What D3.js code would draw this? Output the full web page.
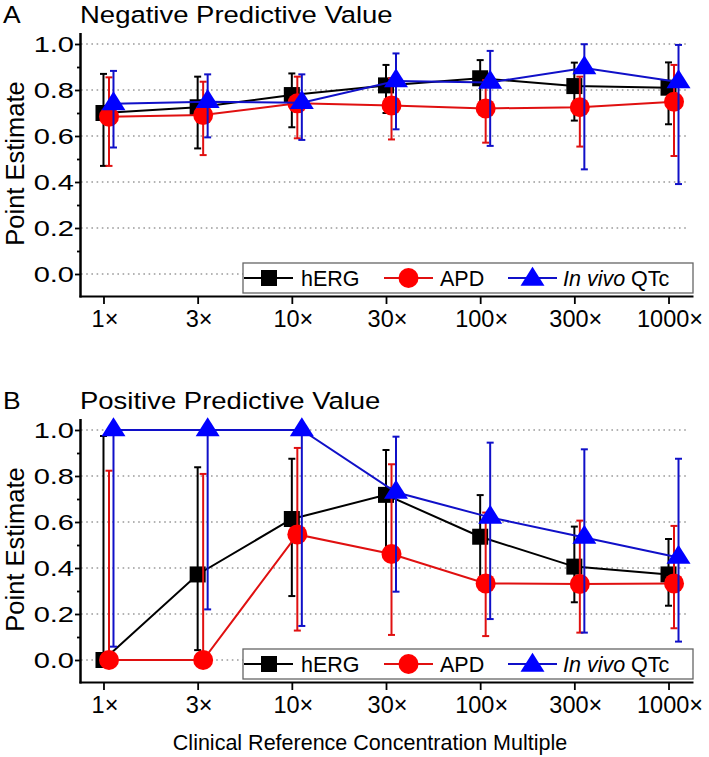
<!DOCTYPE html>
<html>
<head>
<meta charset="utf-8">
<script src="https://cdn.jsdelivr.net/npm/d3@7"></script>
<style>
  html, body { margin: 0; padding: 0; background: #fff; }
  svg { display: block; }
  text { font-family: "Liberation Sans", Arial, sans-serif; fill: #000; }
</style>
</head>
<body>
<div id="chart"></div>
<script>
// ---------------- DATA ----------------
const categories = ["1×", "3×", "10×", "30×", "100×", "300×", "1000×"];
const yTickValues = [0.0, 0.2, 0.4, 0.6, 0.8, 1.0];
const yMinorValues = [0.1, 0.3, 0.5, 0.7, 0.9];
const seriesNames = ["hERG", "APD", "In vivo QTc"];

// Panel A: Negative Predictive Value
const npvHERG   = [0.700, 0.725, 0.778, 0.820, 0.851, 0.817, 0.810];
const npvHERGLo = [0.470, 0.546, 0.638, 0.700, 0.725, 0.667, 0.651];
const npvHERGHi = [0.870, 0.858, 0.872, 0.909, 0.930, 0.919, 0.920];
const npvAPD    = [0.684, 0.691, 0.742, 0.733, 0.720, 0.725, 0.749];
const npvAPDLo  = [0.470, 0.517, 0.590, 0.585, 0.571, 0.554, 0.513];
const npvAPDHi  = [0.855, 0.836, 0.858, 0.851, 0.843, 0.858, 0.909];
const npvQTc    = [0.740, 0.749, 0.745, 0.839, 0.833, 0.896, 0.835];
const npvQTcLo  = [0.550, 0.594, 0.583, 0.629, 0.557, 0.455, 0.391];
const npvQTcHi  = [0.883, 0.868, 0.868, 0.959, 0.970, 0.999, 0.996];

// Panel B: Positive Predictive Value
const ppvHERG   = [0.000, 0.372, 0.613, 0.718, 0.536, 0.406, 0.372];
const ppvHERGLo = [0.000, 0.043, 0.278, 0.470, 0.345, 0.251, 0.236];
const ppvHERGHi = [0.974, 0.838, 0.875, 0.913, 0.717, 0.580, 0.526];
const ppvAPD    = [0.000, 0.000, 0.546, 0.461, 0.333, 0.330, 0.333];
const ppvAPDLo  = [0.000, 0.000, 0.128, 0.109, 0.104, 0.119, 0.138];
const ppvAPDHi  = [0.823, 0.809, 0.922, 0.851, 0.641, 0.606, 0.583];
const ppvQTc    = [1.000, 1.000, 1.000, 0.729, 0.620, 0.533, 0.446];
const ppvQTcLo  = [0.058, 0.220, 0.148, 0.297, 0.178, 0.119, 0.080];
const ppvQTcHi  = [1.000, 1.000, 1.000, 0.971, 0.945, 0.916, 0.875];

// ---------------- STYLE ----------------
const W = 709, H = 757;
const styles = [
  { line: "#000000", fill: "#000000", bar: "#000000", shape: "square", dx: 0 },
  { line: "#e01010", fill: "#ff0000", bar: "#e01010", shape: "circle", dx: 5.5 },
  { line: "#1010c8", fill: "#0000ff", bar: "#1010c8", shape: "triangle", dx: 10 }
];

const panels = [
  { letter: "A", title: "Negative Predictive Value", zeroY: 274,
    series: [[npvHERG, npvHERGLo, npvHERGHi], [npvAPD, npvAPDLo, npvAPDHi], [npvQTc, npvQTcLo, npvQTcHi]] },
  { letter: "B", title: "Positive Predictive Value", zeroY: 660,
    series: [[ppvHERG, ppvHERGLo, ppvHERGHi], [ppvAPD, ppvAPDLo, ppvAPDHi], [ppvQTc, ppvQTcLo, ppvQTcHi]] }
];

const svg = d3.select("#chart").append("svg").attr("width", W).attr("height", H);

const x = d3.scalePoint().domain(categories).range([79, 693]).padding(0.26);

function stext(g, px, py, str, size, anchor, sx) {
  return g.append("text")
    .attr("transform", `translate(${px},${py}) scale(${sx || 1},1)`)
    .attr("text-anchor", anchor || "start")
    .style("font-size", size + "px")
    .text(str);
}

function triPath(w, h) {
  const p = d3.path();
  p.moveTo(0, -2 * h / 3);
  p.lineTo(w / 2, h / 3);
  p.lineTo(-w / 2, h / 3);
  p.closePath();
  return p.toString();
}

function drawMarker(g, shape, cx, cy, fill) {
  if (shape === "square") {
    g.append("rect").attr("x", cx - 8).attr("y", cy - 8).attr("width", 16).attr("height", 16).attr("fill", fill);
  } else if (shape === "circle") {
    g.append("circle").attr("cx", cx).attr("cy", cy).attr("r", 10).attr("fill", fill);
  } else {
    g.append("path").attr("d", triPath(24, 19)).attr("transform", `translate(${cx},${cy})`).attr("fill", fill);
  }
}

panels.forEach(panel => {
  const z = panel.zeroY;
  const y = d3.scaleLinear().domain([-0.1, 1.05]).range([z + 23, z - 241.5]);
  const g = svg.append("g");

  // gridlines
  g.append("g").selectAll("line").data(yTickValues).join("line")
    .attr("x1", 81).attr("x2", 688)
    .attr("y1", d => y(d)).attr("y2", d => y(d))
    .attr("stroke", "#9a9a9a").attr("stroke-width", 1.4).attr("stroke-dasharray", "1.6,3.6");

  // y axis (major)
  const ya = g.append("g").attr("transform", "translate(80,0)")
    .call(d3.axisLeft(y).tickValues(yTickValues).tickSize(5).tickSizeOuter(0).tickFormat(d3.format(".1f")));
  ya.select(".domain").attr("stroke-width", 2.5);
  ya.selectAll(".tick line").attr("stroke-width", 1.8);
  ya.selectAll(".tick text")
    .attr("x", null).attr("dy", null)
    .attr("transform", "translate(-6,7.5) scale(1.32,1)")
    .attr("fill", "#000")
    .style("font-size", "22px").style("font-family", '"Liberation Sans", Arial, sans-serif');
  // y axis (minor)
  const ym = g.append("g").attr("transform", "translate(80,0)")
    .call(d3.axisLeft(y).tickValues(yMinorValues).tickSize(3).tickSizeOuter(0).tickFormat(""));
  ym.select(".domain").remove();
  ym.selectAll(".tick line").attr("stroke-width", 1.8);

  // x axis
  const xa = g.append("g").attr("transform", `translate(0,${z + 22})`)
    .call(d3.axisBottom(x).tickSize(8).tickSizeOuter(0));
  xa.select(".domain").attr("stroke-width", 2.2);
  xa.selectAll(".tick line").attr("stroke-width", 1.8);
  xa.selectAll(".tick text")
    .attr("y", null).attr("dy", null)
    .attr("transform", "translate(1,30.5)")
    .attr("fill", "#000")
    .style("font-size", "23.5px").style("font-family", '"Liberation Sans", Arial, sans-serif');

  // series
  panel.series.forEach((s, si) => {
    const st = styles[si];
    const [vals, lo, hi] = s;
    const pts = categories.map((c, i) => ({ cx: x(c) + st.dx, v: vals[i], lo: lo[i], hi: hi[i] }));
    const sg = g.append("g");
    sg.append("path")
      .attr("d", d3.line().x(d => d.cx).y(d => y(d.v))(pts))
      .attr("fill", "none").attr("stroke", st.line).attr("stroke-width", 2);
    pts.forEach(d => {
      sg.append("line").attr("x1", d.cx).attr("x2", d.cx).attr("y1", y(d.lo)).attr("y2", y(d.hi))
        .attr("stroke", st.bar).attr("stroke-width", 2);
      [d.lo, d.hi].forEach(e => {
        sg.append("line").attr("x1", d.cx - 3.5).attr("x2", d.cx + 3.5).attr("y1", y(e)).attr("y2", y(e))
          .attr("stroke", st.bar).attr("stroke-width", 2);
      });
    });
    pts.forEach(d => drawMarker(sg, st.shape, d.cx, y(d.v), st.fill));
  });

  // legend
  const lg = g.append("g");
  const top = z - 11;
  lg.append("rect").attr("x", 243).attr("y", top).attr("width", 450).attr("height", 30)
    .attr("fill", "#fff").attr("stroke", "#666").attr("stroke-width", 1.3);
  const cy = top + 15;
  const legendItems = [
    { x1: 244, x2: 293, mx: 269, tx: 301 },
    { x1: 384, x2: 433, mx: 408.5, tx: 440 },
    { x1: 508, x2: 557, mx: 532.5, tx: 563 }
  ];
  legendItems.forEach((li, i) => {
    const st = styles[i];
    lg.append("line").attr("x1", li.x1).attr("x2", li.x2).attr("y1", cy).attr("y2", cy)
      .attr("stroke", st.line).attr("stroke-width", 2);
    drawMarker(lg, st.shape, li.mx, st.shape === "triangle" ? cy + 1.5 : cy, st.fill);
    const t = lg.append("text").attr("x", li.tx).attr("y", cy + 7.5).style("font-size", "21.5px");
    if (i === 2) {
      t.append("tspan").style("font-style", "italic").text("In vivo");
      t.append("tspan").text(" QTc");
    } else {
      t.text(seriesNames[i]);
    }
  });

  // panel letter + title
  const ty = z - 251;
  stext(g, 3, ty, panel.letter, 24, "start", 1.1);
  stext(g, 80, ty, panel.title, 23.5, "start", 1.17);

  // y axis title
  g.append("text")
    .attr("transform", `translate(24,${z - 110.5}) rotate(-90)`)
    .attr("text-anchor", "middle")
    .style("font-size", "25.5px")
    .text("Point Estimate");
});

// x axis title
stext(svg, 370, 750, "Clinical Reference Concentration Multiple", 21.5, "middle", 1);
</script>
</body>
</html>
